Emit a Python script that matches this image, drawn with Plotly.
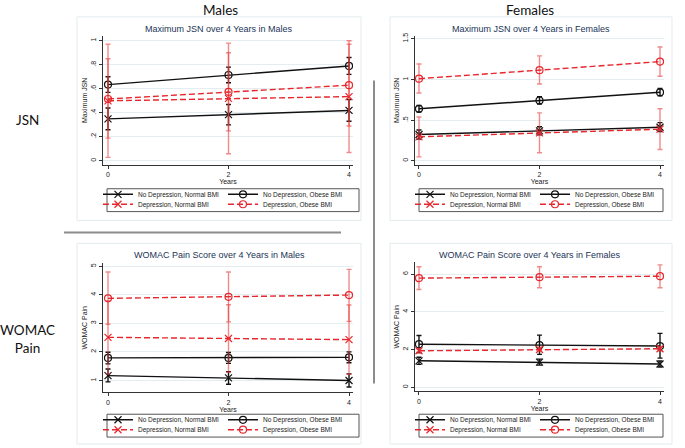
import plotly.graph_objects as go

W, H = 685, 448

years = [0, 2, 4]
group_names = [
    "No Depression, Normal BMI",
    "No Depression, Obese BMI",
    "Depression, Normal BMI",
    "Depression, Obese BMI",
]

# rows follow group_names order
males_jsn_mean = [[0.35, 0.385, 0.42], [0.635, 0.715, 0.79], [0.50, 0.52, 0.535], [0.515, 0.575, 0.63]]
males_jsn_lo = [[0.26, 0.30, 0.33], [0.57, 0.65, 0.72], [0.03, 0.06, 0.07], [0.19, 0.25, 0.29]]
males_jsn_hi = [[0.44, 0.47, 0.51], [0.70, 0.78, 0.86], [0.97, 0.98, 1.00], [0.85, 0.90, 0.97]]

females_jsn_mean = [[0.324, 0.369, 0.413], [0.64, 0.742, 0.843], [0.296, 0.345, 0.39], [1.01, 1.115, 1.22]]
females_jsn_lo = [[0.27, 0.32, 0.36], [0.60, 0.70, 0.80], [0.05, 0.10, 0.14], [0.835, 0.945, 1.04]]
females_jsn_hi = [[0.38, 0.42, 0.47], [0.68, 0.79, 0.89], [0.54, 0.59, 0.64], [1.19, 1.29, 1.40]]

males_pain_mean = [[1.17, 1.09, 1.00], [1.79, 1.79, 1.81], [2.51, 2.47, 2.43], [3.875, 3.93, 3.99]]
males_pain_lo = [[0.95, 0.87, 0.77], [1.58, 1.60, 1.62], [1.23, 1.29, 1.22], [2.97, 3.05, 3.07]]
males_pain_hi = [[1.40, 1.31, 1.23], [1.99, 1.98, 2.00], [3.79, 3.65, 3.64], [4.80, 4.80, 4.89]]

females_pain_mean = [[1.41, 1.34, 1.24], [2.29, 2.24, 2.19], [1.94, 2.01, 2.05], [5.79, 5.84, 5.89]]
females_pain_lo = [[1.22, 1.18, 1.08], [1.85, 1.75, 1.55], [1.82, 1.90, 1.93], [5.19, 5.28, 5.28]]
females_pain_hi = [[1.60, 1.50, 1.40], [2.75, 2.77, 2.86], [2.06, 2.12, 2.17], [6.39, 6.39, 6.49]]

FONT = "Liberation Sans"
HEAD_FONT = "Lato"
BLACK = "#111111"
RED = "#e8262d"
RED_BAR = "rgba(232, 60, 60, 0.6)"
TITLE_COLOR = "#1c3457"


def fx(px):
    return px / W


def fy(py):
    return 1 - py / H


panels = [
    {
        "title": "Maximum JSN over 4 Years in Males",
        "ytitle": "Maximum JSN",
        "mean": males_jsn_mean, "lo": males_jsn_lo, "hi": males_jsn_hi,
        "xdom": (103, 353), "ydom": (33, 163),
        "xrange": [-0.083, 4.066], "yrange": [-0.033, 1.041],
        "yticks": [0, 0.2, 0.4, 0.6, 0.8, 1], "ytext": ["0", ".2", ".4", ".6", ".8", "1"],
        "box": (77, 14, 361, 219), "legbox": (107, 187, 359, 210), "tx": 219, "ty": 26,
    },
    {
        "title": "Maximum JSN over 4 Years in Females",
        "ytitle": "Maximum JSN",
        "mean": females_jsn_mean, "lo": females_jsn_lo, "hi": females_jsn_hi,
        "xdom": (415, 664), "ydom": (33, 163),
        "xrange": [-0.066, 4.066], "yrange": [-0.049, 1.537],
        "yticks": [0, 0.5, 1, 1.5], "ytext": ["0", ".5", "1", "1.5"],
        "box": (390, 14, 672, 219), "legbox": (419, 187, 663, 210), "tx": 531, "ty": 26,
    },
    {
        "title": "WOMAC Pain Score over 4 Years in Males",
        "ytitle": "WOMAC Pain",
        "mean": males_pain_mean, "lo": males_pain_lo, "hi": males_pain_hi,
        "xdom": (103, 353), "ydom": (262, 392),
        "xrange": [-0.083, 4.066], "yrange": [0.583, 5.104],
        "yticks": [1, 2, 3, 4, 5], "ytext": ["1", "2", "3", "4", "5"],
        "box": (77, 242, 361, 444), "legbox": (107, 414, 359, 437), "tx": 219, "ty": 254,
    },
    {
        "title": "WOMAC Pain Score over 4 Years in Females",
        "ytitle": "WOMAC Pain",
        "mean": females_pain_mean, "lo": females_pain_lo, "hi": females_pain_hi,
        "xdom": (415, 664), "ydom": (261, 391),
        "xrange": [-0.066, 4.066], "yrange": [-0.21, 6.63],
        "yticks": [0, 2, 4, 6], "ytext": ["0", "2", "4", "6"],
        "box": (390, 242, 672, 444), "legbox": (419, 414, 663, 437), "tx": 530, "ty": 254,
    },
]

styles = [
    {"color": BLACK, "bar": BLACK, "dash": "solid", "symbol": "x-thin-open"},
    {"color": BLACK, "bar": BLACK, "dash": "solid", "symbol": "circle-open"},
    {"color": RED, "bar": RED_BAR, "dash": "6px,3px", "symbol": "x-thin-open"},
    {"color": RED, "bar": RED_BAR, "dash": "6px,3px", "symbol": "circle-open"},
]

fig = go.Figure()
layout = {}
shapes = []
annotations = []

for p, panel in enumerate(panels):
    n = p + 1
    xa = "x" if n == 1 else f"x{n}"
    ya = "y" if n == 1 else f"y{n}"
    axis_common = dict(
        showline=True, linecolor="#333333", linewidth=1, mirror=False,
        ticks="outside", ticklen=3, tickcolor="#333333",
        showgrid=True, gridcolor="#e4eef0", gridwidth=1, zeroline=False,
        tickfont=dict(family=FONT, size=7, color="#222222"),
    )
    layout["xaxis" if n == 1 else f"xaxis{n}"] = dict(
        axis_common,
        domain=[fx(panel["xdom"][0]), fx(panel["xdom"][1])],
        range=panel["xrange"], anchor=ya, showgrid=False,
        tickvals=years,
        title=dict(text="Years", font=dict(family=FONT, size=7, color="#222222"), standoff=1),
    )
    layout["yaxis" if n == 1 else f"yaxis{n}"] = dict(
        axis_common,
        domain=[fy(panel["ydom"][1]), fy(panel["ydom"][0])],
        range=panel["yrange"], anchor=xa,
        tickvals=panel["yticks"], ticktext=panel["ytext"], tickangle=-90,
        title=dict(text=panel["ytitle"], font=dict(family=FONT, size=7, color="#222222"), standoff=1),
    )

    for g, name in enumerate(group_names):
        st = styles[g]
        mean = panel["mean"][g]
        lo = panel["lo"][g]
        hi = panel["hi"][g]
        legend_no = p * 2 + (g // 2) + 1
        fig.add_trace(
            go.Scatter(
                x=years,
                y=mean,
                mode="lines+markers",
                name=name,
                xaxis=xa,
                yaxis=ya,
                legend="legend" if legend_no == 1 else f"legend{legend_no}",
                line=dict(color=st["color"], width=1.4, dash=st["dash"]),
                marker=dict(symbol=st["symbol"], size=7, color=st["color"],
                            line=dict(color=st["color"], width=1.2)),
                error_y=dict(
                    type="data", symmetric=False,
                    array=[h - m for h, m in zip(hi, mean)],
                    arrayminus=[m - l for m, l in zip(mean, lo)],
                    color=st["bar"], thickness=1.4, width=2.5,
                ),
            )
        )

    x0, y0, x1, y1 = panel["box"]
    shapes.append(dict(type="rect", xref="paper", yref="paper",
                       x0=fx(x0), x1=fx(x1), y0=fy(y1), y1=fy(y0),
                       line=dict(color="#e3ebee", width=1), layer="below"))
    lx0, ly0, lx1, ly1 = panel["legbox"]
    shapes.append(dict(type="rect", xref="paper", yref="paper",
                       x0=fx(lx0), x1=fx(lx1), y0=fy(ly1), y1=fy(ly0),
                       line=dict(color="#555555", width=1), layer="below"))
    annotations.append(dict(text=panel["title"], xref="paper", yref="paper",
                            x=fx(panel["tx"]), y=fy(panel["ty"]), showarrow=False,
                            xanchor="center", yanchor="middle",
                            font=dict(family=FONT, size=9, color=TITLE_COLOR)))
    for r in range(2):
        legend_no = p * 2 + r + 1
        row_center = ly0 + 6.5 + r * 10
        layout["legend" if legend_no == 1 else f"legend{legend_no}"] = dict(
            x=fx(lx0 - 9), y=fy(row_center - 15.5), xanchor="left", yanchor="top",
            orientation="h", entrywidth=80, entrywidthmode="pixels",
            bgcolor="rgba(0,0,0,0)", borderwidth=0, tracegroupgap=0,
            font=dict(family=FONT, size=6.5, color="#222222"),
        )

# separators
shapes.append(dict(type="line", xref="paper", yref="paper", x0=fx(64), x1=fx(341),
                   y0=fy(231), y1=fy(231), line=dict(color="#8c8c8c", width=2)))
shapes.append(dict(type="line", xref="paper", yref="paper", x0=fx(374), x1=fx(374),
                   y0=fy(78), y1=fy(383), line=dict(color="#8c8c8c", width=2)))

for text, x, y in (("Males", 220, 7), ("Females", 530, 7), ("JSN", 27, 118),
                   ("WOMAC<br>Pain", 27, 338)):
    annotations.append(dict(text=text, xref="paper", yref="paper", x=fx(x), y=fy(y),
                            showarrow=False, xanchor="center", yanchor="middle",
                            font=dict(family=HEAD_FONT, size=13.5, color="#111111")))

fig.update_layout(
    width=W, height=H,
    margin=dict(l=0, r=0, t=0, b=0),
    paper_bgcolor="white", plot_bgcolor="white",
    showlegend=True,
    shapes=shapes,
    annotations=annotations,
    **layout,
)

fig.write_html(
    "out.html",
    config={"displayModeBar": False},
    post_script="document.body.style.margin='0';",
)
